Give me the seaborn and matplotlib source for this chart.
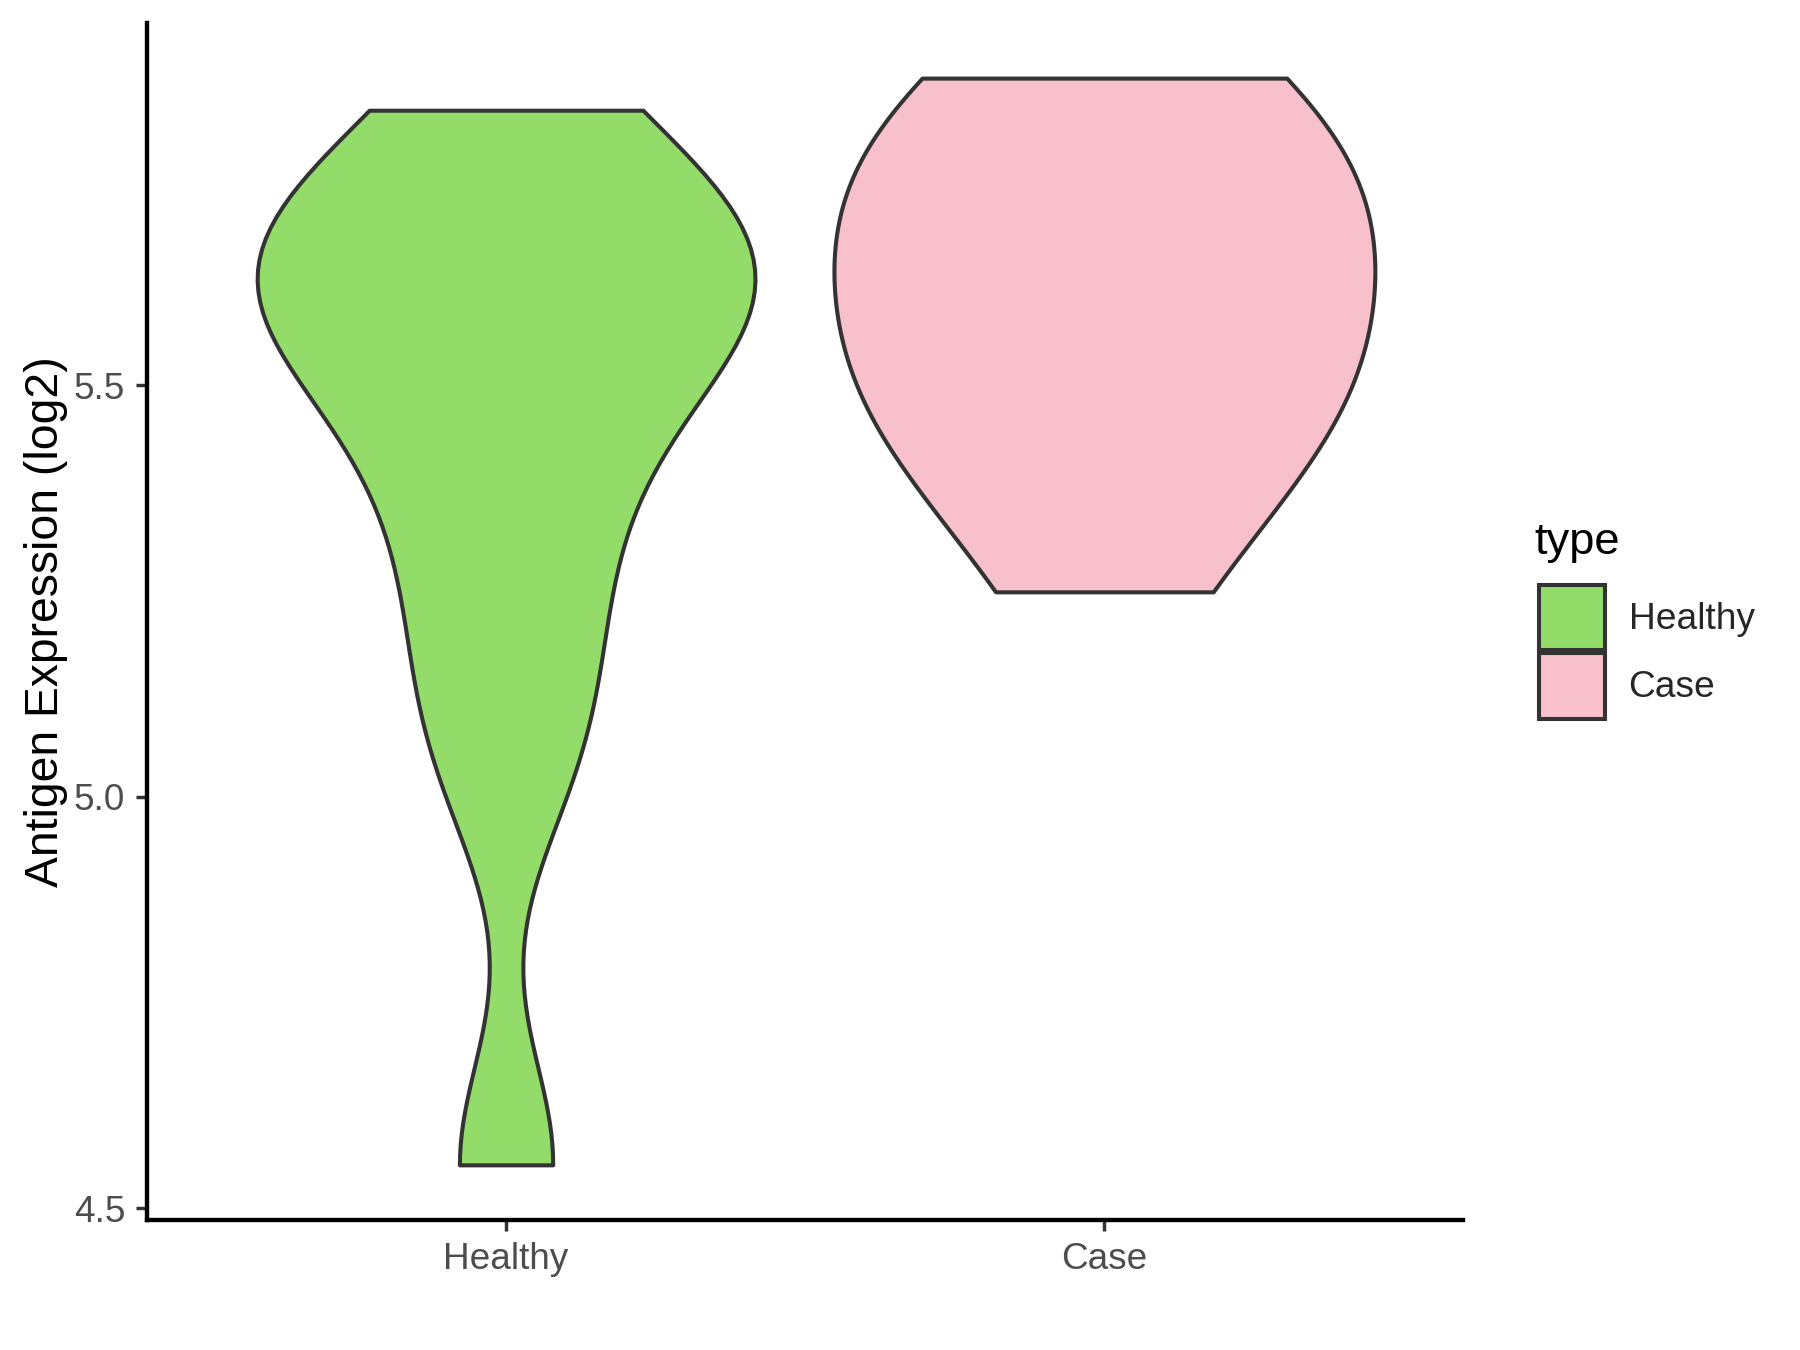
import pandas as pd
import numpy as np
import matplotlib
matplotlib.use("Agg")
import matplotlib.pyplot as plt
import seaborn as sns
from matplotlib.patches import Patch

# values (log2 antigen expression)
healthy_vals = [4.553, 5.04, 5.20, 5.35, 5.47, 5.56, 5.60, 5.64, 5.68, 5.74, 5.834]
case_vals = [5.249, 5.42, 5.45, 5.50, 5.58, 5.65, 5.71, 5.77, 5.83, 5.873]
groups = ["Healthy", "Case"]
palette = {"Healthy": "#93DC6A", "Case": "#F7C0CB"}
y_ticks = [4.5, 5.0, 5.5]

# per-group kde bandwidth factor and violin width
bw_factor = {"Healthy": 0.35, "Case": 0.75}
violin_width = {"Healthy": 0.832, "Case": 0.904}

data = pd.DataFrame({
    "type": ["Healthy"] * len(healthy_vals) + ["Case"] * len(case_vals),
    "value": healthy_vals + case_vals,
})

sns.set_style("white")
plt.rcParams["font.family"] = ["Liberation Sans", "DejaVu Sans"]

fig = plt.figure(figsize=(8, 6), dpi=225)
ax = fig.add_axes([0.0817, 0.0963, 0.7313, 0.8867])

for g in groups:
    sub = data[data["type"] == g]
    sns.violinplot(data=sub, x="type", y="value", hue="type", order=groups,
                   hue_order=groups, palette=palette, cut=0, inner=None,
                   density_norm="width", width=violin_width[g],
                   bw_method=bw_factor[g], linewidth=1.3, linecolor="#333333",
                   saturation=1, legend=False, ax=ax)

ax.set_xlim(-0.6, 1.6)
ax.set_ylim(4.486, 5.94)
ax.set_yticks(y_ticks)
ax.set_yticklabels([f"{t:.1f}" for t in y_ticks])
ax.set_xlabel("")
ax.set_ylabel("Antigen Expression (log2)", fontsize=14.8, color="black", labelpad=2)

for side in ["top", "right"]:
    ax.spines[side].set_visible(False)
for side in ["left", "bottom"]:
    ax.spines[side].set_color("black")
    ax.spines[side].set_linewidth(1.4)
ax.tick_params(axis="both", colors="#333333", labelcolor="#4D4D4D",
               labelsize=11.8, length=3.5, width=1.1, direction="out",
               left=True, bottom=True)

# legend: title as separate text, square keys stacked closely
fig.text(0.8525, 0.5893, "type", fontsize=14.5, color="black", va="baseline", ha="left")
handles = [Patch(facecolor=palette[g], edgecolor="#333333", linewidth=1.3, label=g)
           for g in groups]
leg = fig.legend(handles=handles, loc="upper left",
                 bbox_to_anchor=(0.855, 0.567), frameon=False, fontsize=11.9,
                 handlelength=1.77, handleheight=2.35,
                 handletextpad=0.64, labelspacing=0.06, borderpad=0,
                 borderaxespad=0)

fig.savefig("out.png", dpi=225)
